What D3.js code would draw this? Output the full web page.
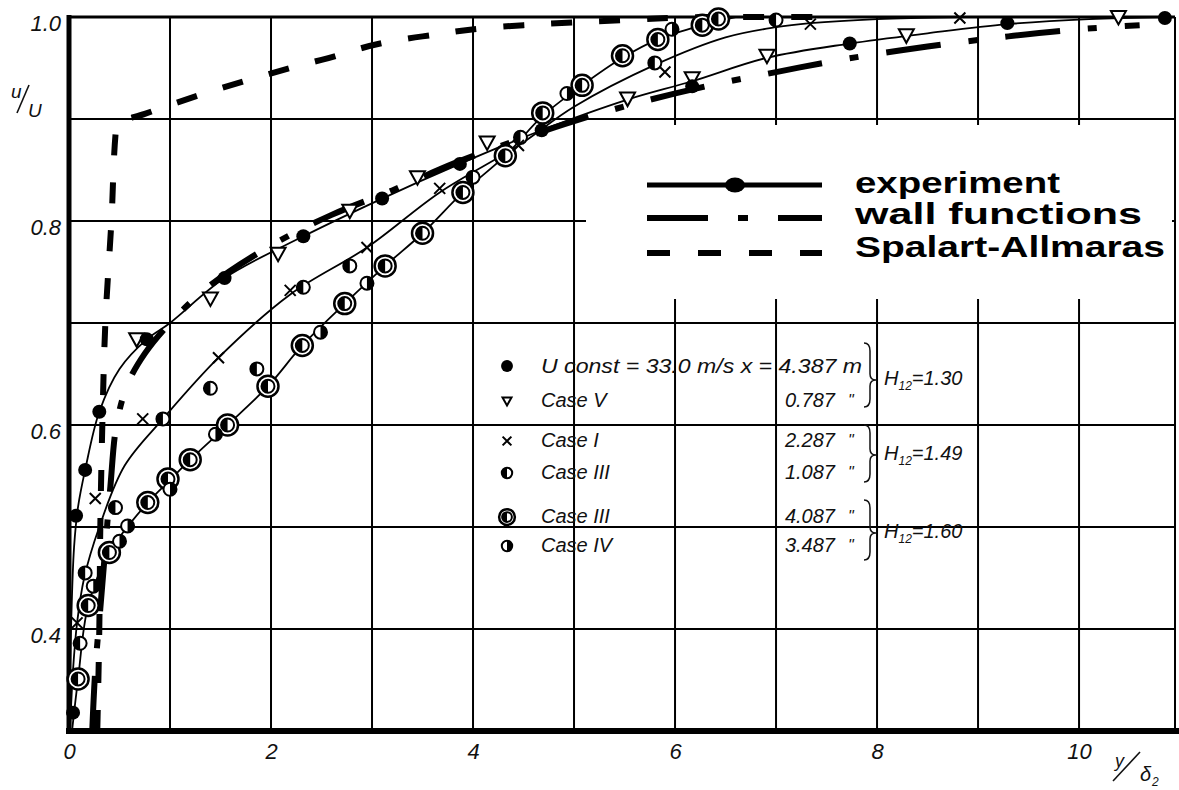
<!DOCTYPE html>
<html>
<head>
<meta charset="utf-8">
<script src="https://d3js.org/d3.v7.min.js"></script>
<style>
  body { margin: 0; background: #fff; }
  svg { display: block; }
</style>
</head>
<body>
<svg></svg>
<script>
    // tick labels and grid
    var xTicks = [0, 2, 4, 6, 8, 10];
    var yTicks = [0.4, 0.6, 0.8, 1.0];
    var xGrid = [1, 2, 3, 4, 5, 6, 7, 8, 9, 10];
    var yGrid = [0.4, 0.5, 0.6, 0.7, 0.8, 0.9];

    // measured points (y/delta2, u/U)
    var uConst = [[0.04, 0.318], [0.07, 0.511], [0.16, 0.556], [0.30, 0.613], [0.77, 0.684], [1.54, 0.744], [2.32, 0.785],
        [3.10, 0.822], [3.87, 0.856], [4.68, 0.889], [6.17, 0.932], [7.73, 0.974], [9.29, 0.994], [10.85, 0.999]];
    var caseV = [[0.67, 0.684], [1.40, 0.724], [2.07, 0.768], [2.78, 0.810], [3.45, 0.843], [4.14, 0.877], [5.53, 0.920],
        [6.17, 0.940], [6.91, 0.962], [8.29, 0.982], [10.39, 1.0]];
    var caseI = [[0.08, 0.406], [0.26, 0.528], [0.73, 0.606], [1.48, 0.666], [2.19, 0.732], [2.95, 0.774], [3.67, 0.832],
        [4.45, 0.874], [5.90, 0.946], [7.34, 0.993], [8.82, 0.999]];
    var caseIIIa = [[0.11, 0.386], [0.16, 0.455], [0.46, 0.519], [0.93, 0.606], [1.40, 0.636], [1.86, 0.655], [2.32, 0.735],
        [2.78, 0.756], [4.00, 0.843], [4.47, 0.882], [5.80, 0.955], [7.00, 0.997]];
    var caseIIIb = [[0.09, 0.351], [0.19, 0.423], [0.40, 0.475], [0.78, 0.524], [0.98, 0.547], [1.20, 0.566], [1.57, 0.600],
        [1.97, 0.638], [2.31, 0.678], [2.73, 0.719], [3.13, 0.756], [3.50, 0.788], [3.90, 0.828], [4.32, 0.864],
        [4.69, 0.906], [5.08, 0.933], [5.48, 0.962], [5.83, 0.978], [6.27, 0.992], [6.43, 0.998]];
    var caseIV = [[0.24, 0.442], [0.50, 0.486], [0.58, 0.501], [1.00, 0.537], [1.45, 0.591], [2.49, 0.691], [2.95, 0.739],
        [4.93, 0.925], [5.97, 0.988]];

    // faired experiment curves
    var curveH130 = [[0.0, 0.30], [0.02, 0.40], [0.05, 0.48], [0.09, 0.52], [0.16, 0.556], [0.30, 0.613], [0.50, 0.655],
        [0.77, 0.684], [1.0, 0.700], [1.54, 0.744], [2.32, 0.785], [3.10, 0.822], [3.87, 0.856], [4.68, 0.889],
        [5.53, 0.919], [6.17, 0.937], [6.91, 0.960], [7.73, 0.974], [8.5, 0.984], [9.29, 0.993], [10.1, 0.998], [10.85, 1.0]];
    var curveH149 = [[0.01, 0.30], [0.04, 0.36], [0.08, 0.406], [0.15, 0.45], [0.30, 0.50], [0.55, 0.56], [0.93, 0.606],
        [1.48, 0.666], [2.19, 0.728], [2.95, 0.774], [3.67, 0.828], [4.45, 0.874], [5.0, 0.912], [5.8, 0.953],
        [6.5, 0.980], [7.0, 0.990], [7.34, 0.994], [8.0, 0.998], [8.82, 1.0]];
    var curveH160 = [[0.03, 0.30], [0.09, 0.351], [0.19, 0.423], [0.40, 0.475], [0.78, 0.524], [1.0, 0.546], [1.20, 0.566],
        [1.57, 0.600], [1.97, 0.638], [2.31, 0.678], [2.73, 0.719], [3.13, 0.756], [3.50, 0.788], [3.90, 0.828],
        [4.32, 0.864], [4.69, 0.903], [5.08, 0.933], [5.48, 0.960], [5.83, 0.978], [6.27, 0.992], [6.6, 1.0]];

    // computations
    var wallFunctions = [[0.23, 0.30], [0.26, 0.36], [0.31, 0.42], [0.36, 0.48], [0.41, 0.54], [0.47, 0.60], [0.58, 0.64],
        [0.75, 0.67], [1.0, 0.70], [1.4, 0.737], [2.0, 0.776], [2.6, 0.806], [3.2, 0.830], [3.8, 0.856], [4.4, 0.878],
        [5.0, 0.898], [5.6, 0.915], [6.3, 0.932], [7.0, 0.946], [7.7, 0.959], [8.5, 0.971], [9.3, 0.981], [10.0, 0.988], [10.6, 0.992]];
    var spalartAllmaras = [[0.28, 0.30], [0.30, 0.40], [0.31, 0.50], [0.33, 0.60], [0.36, 0.70], [0.42, 0.80], [0.47, 0.895],
        [0.75, 0.905], [1.5, 0.930], [2.5, 0.958], [3.5, 0.981], [4.5, 0.992], [5.5, 0.997], [6.3, 1.0], [7.5, 1.0]];

    // inner key
    var keyRows = [
        {sym: 'tri', label: 'Case V', value: '0.787'},
        {sym: 'cross', label: 'Case I', value: '2.287'},
        {sym: 'halfL', label: 'Case III', value: '1.087'},
        {sym: 'ring', label: 'Case III', value: '4.087'},
        {sym: 'halfR', label: 'Case IV', value: '3.487'}
    ];
    var keyRowY = [407, 447, 479, 523, 552];
    var h12Labels = ['1.30', '1.49', '1.60'];

    var width = 1179;
    var height = 790;
    var svg = d3.select('svg').attr('width', width).attr('height', height);

    var x = d3.scaleLinear().domain([0, 10.95]).range([69, 1175]);
    var y = d3.scaleLinear().domain([0.3, 1.0]).range([731, 17]);

    var tickFont = '"Liberation Sans", Arial, sans-serif';

    // grid
    var grid = svg.append('g').attr('stroke', '#000').attr('stroke-width', 2);
    grid.selectAll('.vg').data(xGrid).enter().append('line')
        .attr('x1', d => x(d)).attr('x2', d => x(d))
        .attr('y1', y(1.0)).attr('y2', y(0.3));
    grid.selectAll('.hg').data(yGrid).enter().append('line')
        .attr('x1', x(0)).attr('x2', x.range()[1])
        .attr('y1', d => y(d)).attr('y2', d => y(d));

    // frame
    svg.append('line').attr('x1', x(0)).attr('x2', x.range()[1]).attr('y1', y(1.0)).attr('y2', y(1.0))
        .attr('stroke', '#000').attr('stroke-width', 3);
    svg.append('line').attr('x1', x.range()[1]).attr('x2', x.range()[1]).attr('y1', y(1.0)).attr('y2', y(0.3))
        .attr('stroke', '#000').attr('stroke-width', 2);

    // white legend panel covers grid
    svg.append('rect').attr('x', 586).attr('y', 125).attr('width', 586).attr('height', 174).attr('fill', '#fff');

    // axes
    var xAxis = svg.append('g').attr('transform', 'translate(0,' + y(0.3) + ')')
        .call(d3.axisBottom(x).tickValues(xTicks).tickSize(0).tickPadding(12).tickFormat(d3.format('d')));
    var yAxis = svg.append('g').attr('transform', 'translate(' + x(0) + ',0)')
        .call(d3.axisLeft(y).tickValues(yTicks).tickSize(0).tickPadding(8).tickFormat(d3.format('.1f')));
    [xAxis, yAxis].forEach(function (a) {
        a.select('.domain').remove();
        a.selectAll('text').style('font-family', tickFont).style('font-style', 'italic')
            .style('font-size', '22px').attr('fill', '#111');
    });
    yAxis.selectAll('text').attr('dy', '0.6em');

    svg.append('line').attr('x1', x(0) - 3).attr('x2', width).attr('y1', y(0.3)).attr('y2', y(0.3))
        .attr('stroke', '#000').attr('stroke-width', 6);
    svg.append('line').attr('x1', x(0)).attr('x2', x(0)).attr('y1', y(1.0) - 2).attr('y2', y(0.3) + 3)
        .attr('stroke', '#000').attr('stroke-width', 5);

    // axis titles
    var it = {'font-family': tickFont, 'font-style': 'italic', 'fill': '#111'};
    function txt(sel, s, px, py, size) {
        var t = sel.append('text').attr('x', px).attr('y', py).style('font-size', size + 'px').text(s);
        Object.keys(it).forEach(k => t.attr(k, it[k]));
        return t;
    }
    txt(svg, 'u', 11, 98, 19);
    svg.append('line').attr('x1', 17).attr('y1', 113).attr('x2', 29).attr('y2', 85).attr('stroke', '#111').attr('stroke-width', 1.6);
    txt(svg, 'U', 28, 117, 19);
    txt(svg, 'y', 1115, 767, 18);
    svg.append('line').attr('x1', 1113).attr('y1', 781).attr('x2', 1140).attr('y2', 752).attr('stroke', '#111').attr('stroke-width', 1.6);
    txt(svg, 'δ', 1140, 781, 20);
    txt(svg, '2', 1152, 786, 12);

    // computed lines
    var line = d3.line().x(d => x(d[0])).y(d => y(d[1])).curve(d3.curveCatmullRom.alpha(0.5));
    svg.append('path').datum(wallFunctions).attr('d', line).attr('fill', 'none')
        .attr('stroke', '#000').attr('stroke-width', 6).attr('stroke-dasharray', '55,28,9,28');
    svg.append('path').datum(spalartAllmaras).attr('d', d3.line().x(d => x(d[0])).y(d => y(d[1])).curve(d3.curveMonotoneY))
        .attr('fill', 'none').attr('stroke', '#000').attr('stroke-width', 6).attr('stroke-dasharray', '21,27');

    // experiment curves
    [curveH130, curveH149, curveH160].forEach(function (c) {
        svg.append('path').datum(c).attr('d', line).attr('fill', 'none')
            .attr('stroke', '#000').attr('stroke-width', 1.8);
    });

    // markers
    function marker(g, sym, cx, cy, s) {
        s = s || 1;
        if (sym === 'dot') {
            g.append('circle').attr('cx', cx).attr('cy', cy).attr('r', 7 * s).attr('fill', '#000');
        } else if (sym === 'tri') {
            var a = 7.5 * s;
            g.append('path').attr('d', 'M' + (cx - a) + ',' + (cy - a * 0.8) + 'L' + (cx + a) + ',' + (cy - a * 0.8) +
                'L' + cx + ',' + (cy + a) + 'Z')
                .attr('fill', '#fff').attr('stroke', '#000').attr('stroke-width', 2);
        } else if (sym === 'cross') {
            var c = 5.5 * s;
            g.append('path').attr('d', 'M' + (cx - c) + ',' + (cy - c) + 'L' + (cx + c) + ',' + (cy + c) +
                'M' + (cx - c) + ',' + (cy + c) + 'L' + (cx + c) + ',' + (cy - c))
                .attr('stroke', '#000').attr('stroke-width', 2);
        } else if (sym === 'halfL' || sym === 'halfR') {
            var r = 6.5 * s;
            g.append('circle').attr('cx', cx).attr('cy', cy).attr('r', r).attr('fill', '#fff')
                .attr('stroke', '#000').attr('stroke-width', 2);
            var sw = sym === 'halfL' ? 0 : 1;
            g.append('path').attr('d', 'M' + cx + ',' + (cy - r) + 'A' + r + ',' + r + ' 0 0 ' + sw + ' ' + cx + ',' + (cy + r) + 'Z')
                .attr('fill', '#000');
        } else if (sym === 'ring') {
            var R = 10.5 * s, r2 = 6.5 * s;
            g.append('circle').attr('cx', cx).attr('cy', cy).attr('r', R).attr('fill', '#fff')
                .attr('stroke', '#000').attr('stroke-width', 2.5);
            g.append('circle').attr('cx', cx).attr('cy', cy).attr('r', r2).attr('fill', '#fff')
                .attr('stroke', '#000').attr('stroke-width', 2);
            g.append('path').attr('d', 'M' + cx + ',' + (cy - r2) + 'A' + r2 + ',' + r2 + ' 0 0 0 ' + cx + ',' + (cy + r2) + 'Z')
                .attr('fill', '#000');
        }
    }
    var mk = svg.append('g');
    [[caseIIIb, 'ring'], [caseIV, 'halfR'], [caseIIIa, 'halfL'], [caseI, 'cross'], [caseV, 'tri'], [uConst, 'dot']]
        .forEach(function (p) {
            p[0].forEach(d => marker(mk, p[1], x(d[0]), y(d[1])));
        });

    // inner key (drawn over grid)
    var key = svg.append('g');
    marker(key, 'dot', 507, 366, 0.85);
    txt(key, 'U  const = 33.0 m/s  x = 4.387 m', 541, 373, 20).attr('textLength', 321).attr('lengthAdjust', 'spacingAndGlyphs');
    keyRows.forEach(function (r, i) {
        var by = keyRowY[i];
        var s = r.sym === 'ring' ? 0.75 : (r.sym === 'tri' ? 0.6 : 0.8);
        marker(key, r.sym, 507, by - 6, s);
        txt(key, r.label, 541, by, 20);
        txt(key, r.value, 835, by, 20).attr('text-anchor', 'end');
        txt(key, '"', 848, by - 1, 16);
    });

    // braces and H12 labels
    var braces = [[343, 407, 380], [425, 482, 455], [500, 560, 533]];
    braces.forEach(function (b, i) {
        var bx = 870, m = b[2];
        svg.append('path').attr('d', 'M' + (bx - 6) + ',' + b[0] + 'Q' + bx + ',' + b[0] + ' ' + bx + ',' + (b[0] + 8) +
            'L' + bx + ',' + (m - 6) + 'Q' + bx + ',' + m + ' ' + (bx + 6) + ',' + m +
            'Q' + bx + ',' + m + ' ' + bx + ',' + (m + 6) +
            'L' + bx + ',' + (b[1] - 8) + 'Q' + bx + ',' + b[1] + ' ' + (bx - 6) + ',' + b[1])
            .attr('fill', 'none').attr('stroke', '#111').attr('stroke-width', 1.5);
        var t = txt(svg, '', 884, [385, 460, 538][i], 20);
        t.append('tspan').text('H');
        t.append('tspan').attr('dy', 5).style('font-size', '12px').text('12');
        t.append('tspan').attr('dy', -5).text('=' + h12Labels[i]);
    });

    // main legend
    var legendNames = ['experiment', 'wall functions', 'Spalart-Allmaras'];
    var legendY = [185, 218, 253];
    var legendTextY = [193, 224, 257];
    var legendLen = [205, 287, 310];
    var leg = svg.append('g');
    leg.append('line').attr('x1', 647).attr('x2', 822).attr('y1', legendY[0]).attr('y2', legendY[0])
        .attr('stroke', '#000').attr('stroke-width', 5);
    leg.append('ellipse').attr('cx', 735).attr('cy', legendY[0]).attr('rx', 10).attr('ry', 7.5).attr('fill', '#000');
    leg.append('line').attr('x1', 647).attr('x2', 822).attr('y1', legendY[1]).attr('y2', legendY[1])
        .attr('stroke', '#000').attr('stroke-width', 6).attr('stroke-dasharray', '61,30,10,30');
    leg.append('line').attr('x1', 647).attr('x2', 822).attr('y1', legendY[2]).attr('y2', legendY[2])
        .attr('stroke', '#000').attr('stroke-width', 6).attr('stroke-dasharray', '23,28');
    legendNames.forEach(function (n, i) {
        leg.append('text').attr('x', 855).attr('y', legendTextY[i])
            .attr('textLength', legendLen[i]).attr('lengthAdjust', 'spacingAndGlyphs')
            .style('font-family', tickFont).style('font-weight', 'bold').style('font-size', '29px')
            .attr('fill', '#000').text(n);
    });
</script>
</body>
</html>
